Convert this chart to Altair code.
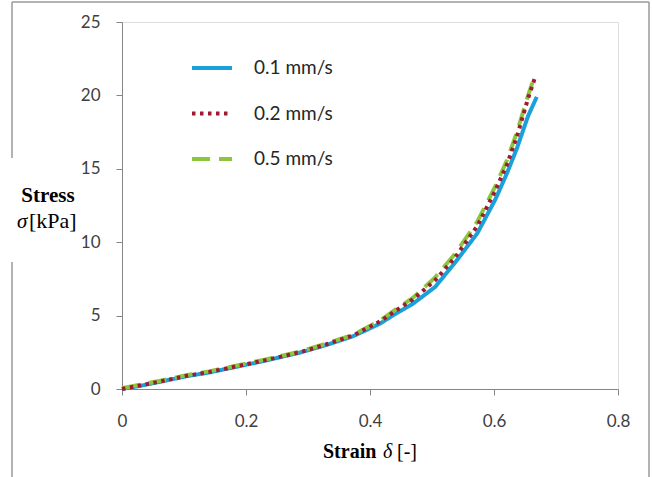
import altair as alt
import pandas as pd

# ---- data ----
series_names = ["0.1 mm/s", "0.2 mm/s", "0.5 mm/s"]
series_colors = ["#1BA1DA", "#9E1B32", "#8CC63F"]

strain_01 = [0, 0.03, 0.06, 0.105, 0.14, 0.174, 0.23, 0.287, 0.33, 0.373, 0.416,
             0.444, 0.469, 0.505, 0.537, 0.573, 0.602, 0.621, 0.637, 0.655, 0.669]
stress_01 = [0, 0.22, 0.48, 0.88, 1.12, 1.42, 1.92, 2.48, 3.0, 3.6, 4.45,
             5.2, 5.8, 6.95, 8.6, 10.6, 12.9, 14.7, 16.4, 18.6, 19.9]

strain_02 = [0, 0.03, 0.06, 0.105, 0.14, 0.174, 0.23, 0.287, 0.33, 0.373, 0.416,
             0.444, 0.469, 0.505, 0.537, 0.573, 0.602, 0.621, 0.637, 0.655, 0.666]
stress_02 = [0, 0.25, 0.5, 0.9, 1.15, 1.45, 1.95, 2.5, 3.05, 3.65, 4.6,
             5.4, 6.1, 7.4, 8.95, 11.1, 13.5, 15.3, 17.2, 19.8, 21.2]

strain_05 = [0, 0.03, 0.06, 0.105, 0.14, 0.174, 0.23, 0.287, 0.33, 0.373, 0.416,
             0.444, 0.469, 0.505, 0.537, 0.573, 0.602, 0.621, 0.637, 0.655, 0.663]
stress_05 = [0.05, 0.3, 0.55, 0.95, 1.2, 1.5, 2.0, 2.55, 3.1, 3.7, 4.65,
             5.5, 6.2, 7.6, 9.2, 11.4, 13.8, 15.6, 17.5, 20.0, 21.0]

x_ticks = [0, 0.2, 0.4, 0.6, 0.8]
y_ticks = [0, 5, 10, 15, 20, 25]

frames = []
for name, xs, ys in [(series_names[0], strain_01, stress_01),
                     (series_names[1], strain_02, stress_02),
                     (series_names[2], strain_05, stress_05)]:
    frames.append(pd.DataFrame({"strain": xs, "stress": ys, "series": name,
                                "order": range(len(xs))}))
df = pd.concat(frames, ignore_index=True)

W, H = 496, 367
PADL, PADT = 122, 22

color_scale = alt.Scale(domain=series_names, range=series_colors)
dash_scale = alt.Scale(domain=series_names, range=[[1, 0], [3.5, 4.5], [18, 9]])

legend = alt.Legend(orient="none", legendX=68, legendY=24, title=None,
                    symbolType="stroke", symbolSize=1600, symbolStrokeWidth=4,
                    labelFont="Lato", labelFontSize=19, labelColor="#262626",
                    labelOffset=20, rowPadding=13.5, padding=0)

def series_layer(name):
    return alt.Chart(df).transform_filter(
        alt.datum.series == name
    ).mark_line(strokeWidth=4, strokeCap="butt").encode(
        x=alt.X("strain:Q", scale=alt.Scale(domain=[0, 0.8], nice=False),
                axis=alt.Axis(values=x_ticks, format=".1~f", title=None, grid=False,
                              domainColor="#868686", tickColor="#868686", tickSize=6,
                              labelFont="Lato", labelFontSize=17, labelColor="#404040",
                              labelPadding=18, labelFlush=False)),
        y=alt.Y("stress:Q", scale=alt.Scale(domain=[0, 25], nice=False),
                axis=alt.Axis(values=y_ticks, title=None, grid=False,
                              domainColor="#868686", tickColor="#868686", tickSize=6,
                              labelFont="Lato", labelFontSize=17, labelColor="#404040",
                              labelPadding=16)),
        color=alt.Color("series:N", scale=color_scale, legend=legend),
        strokeDash=alt.StrokeDash("series:N", scale=dash_scale, legend=legend),
        order="order:Q",
    )

one = pd.DataFrame({"a": [0]})

def rule(x, x2, y, y2):
    return alt.Chart(one).mark_rule(color="#9a9a9a", strokeWidth=1.5).encode(
        x=alt.value(x), x2=alt.value(x2), y=alt.value(y), y2=alt.value(y2))

def text(s, x, y, bold=False, italic=False, align="left", size=21):
    return alt.Chart(one).mark_text(
        text=s, font="Liberation Serif", fontSize=size,
        fontWeight="bold" if bold else "normal",
        fontStyle="italic" if italic else "normal",
        align=align, baseline="alphabetic", color="#000000"
    ).encode(x=alt.value(x), y=alt.value(y))

border = [
    rule(12 - PADL, 649 - PADL, 2 - PADT, 2 - PADT),
    rule(12 - PADL, 12 - PADL, 2 - PADT, 158 - PADT),
    rule(12 - PADL, 12 - PADL, 262 - PADT, 477 - PADT),
    rule(649 - PADL, 649 - PADL, 2 - PADT, 477 - PADT),
]

titles = [
    text("Stress", 48 - PADL, 202 - PADT, bold=True, align="center"),
    text("σ", 17 - PADL, 228 - PADT, italic=True),
    text("[kPa]", 29 - PADL, 228 - PADT, size=22),
    text("Strain", 323 - PADL, 458 - PADT, bold=True, size=20),
    text("δ", 383 - PADL, 458 - PADT, italic=True, size=20),
    text("[-]", 397 - PADL, 458 - PADT, size=20),
]

chart = alt.layer(
    *border,
    series_layer(series_names[0]),
    series_layer(series_names[2]),
    series_layer(series_names[1]),
    *titles,
).properties(
    width=W, height=H,
    padding={"left": PADL, "top": PADT, "right": 652 - PADL - W, "bottom": 477 - PADT - H},
    autosize=alt.AutoSizeParams(type="none"),
).configure_view(stroke=None).configure(background="white")

chart.save("out.html", embed_options={"renderer": "svg", "actions": False})
